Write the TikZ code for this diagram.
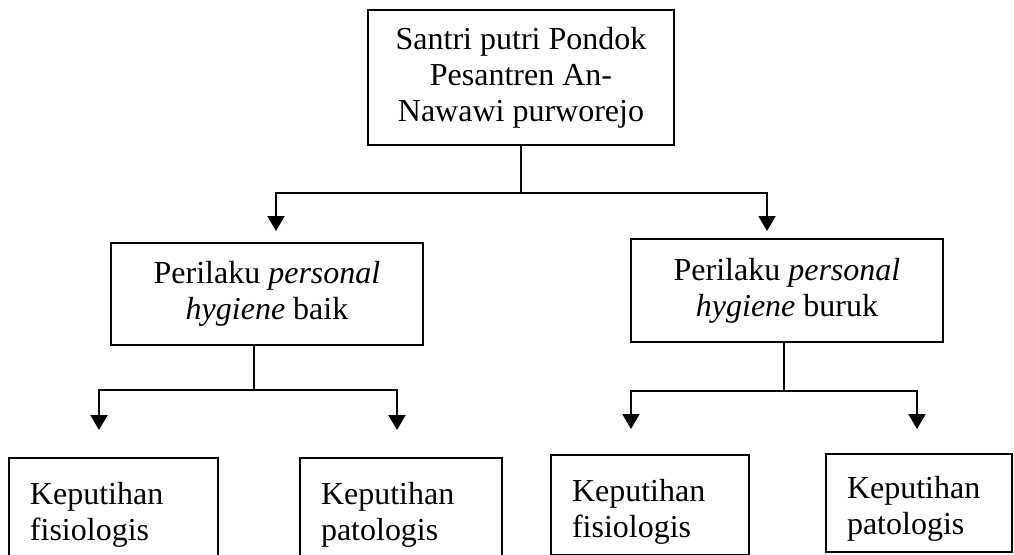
\documentclass[tikz,border=0pt]{standalone}
\usepackage{fontspec}
\setmainfont{Liberation Serif}
\usetikzlibrary{arrows.meta}

\begin{document}
\begin{tikzpicture}[
    x=0.5pt, y=-0.5pt,
    box/.style={draw, line width=1pt, align=center, inner sep=0pt,
                font=\fontsize{16pt}{18pt}\selectfont},
    leafbox/.style={box, align=left, inner xsep=10.5pt, minimum height=50pt},
    link/.style={line width=1pt},
    >={Triangle[width=8.5pt, length=7.5pt]}
  ]
  \useasboundingbox (0,0) rectangle (1014,554);
  \clip (0,0) rectangle (1014,554);

  % Top
  \node[box, minimum width=153pt, minimum height=67.5pt] (santri) at (521,77.5)
    {Santri putri Pondok\\Pesantren An-\\Nawawi purworejo};

  % Middle row
  \node[box, minimum width=156pt, minimum height=51pt] (baik) at (267,294)
    {Perilaku \textit{personal}\\\textit{hygiene} baik};
  \node[box, minimum width=156pt, minimum height=51.5pt] (buruk) at (787,290.5)
    {Perilaku \textit{personal}\\\textit{hygiene} buruk};

  % Bottom row
  \node[leafbox, text width=83.5pt] (fisA) at (113.5,508) {\rule{0pt}{18pt}Keputihan\\fisiologis};
  \node[leafbox, text width=80pt] (patA) at (401,508) {\rule{0pt}{18pt}Keputihan\\patologis};
  \node[leafbox, text width=78pt] (fisB) at (650,505) {\rule{0pt}{18pt}Keputihan\\fisiologis};
  \node[leafbox, text width=72pt, minimum height=49pt] (patB) at (919,503) {\rule{0pt}{17pt}Keputihan\\patologis};

  % Arrow ends and joints
  \coordinate (tipbaik) at (276,231);
  \coordinate (tipburuk) at (767,231);
  \coordinate (jbaik) at (254,390);
  \coordinate (tipfisA) at (99,430);
  \coordinate (tippatA) at (397,430);
  \coordinate (jburuk) at (784,391);
  \coordinate (tipfisB) at (631,429);
  \coordinate (tippatB) at (917,429);

  \draw[link, ->] (santri.south) -- ++(0,47) -| (tipbaik);
  \draw[link, ->] (santri.south) -- ++(0,47) -| (tipburuk);

  \draw[link] (baik.south -| jbaik) -- (jbaik);
  \draw[link, ->] (jbaik) -| (tipfisA);
  \draw[link, ->] (jbaik) -| (tippatA);

  \draw[link] (buruk.south -| jburuk) -- (jburuk);
  \draw[link, ->] (jburuk) -| (tipfisB);
  \draw[link, ->] (jburuk) -| (tippatB);

\end{tikzpicture}
\end{document}
